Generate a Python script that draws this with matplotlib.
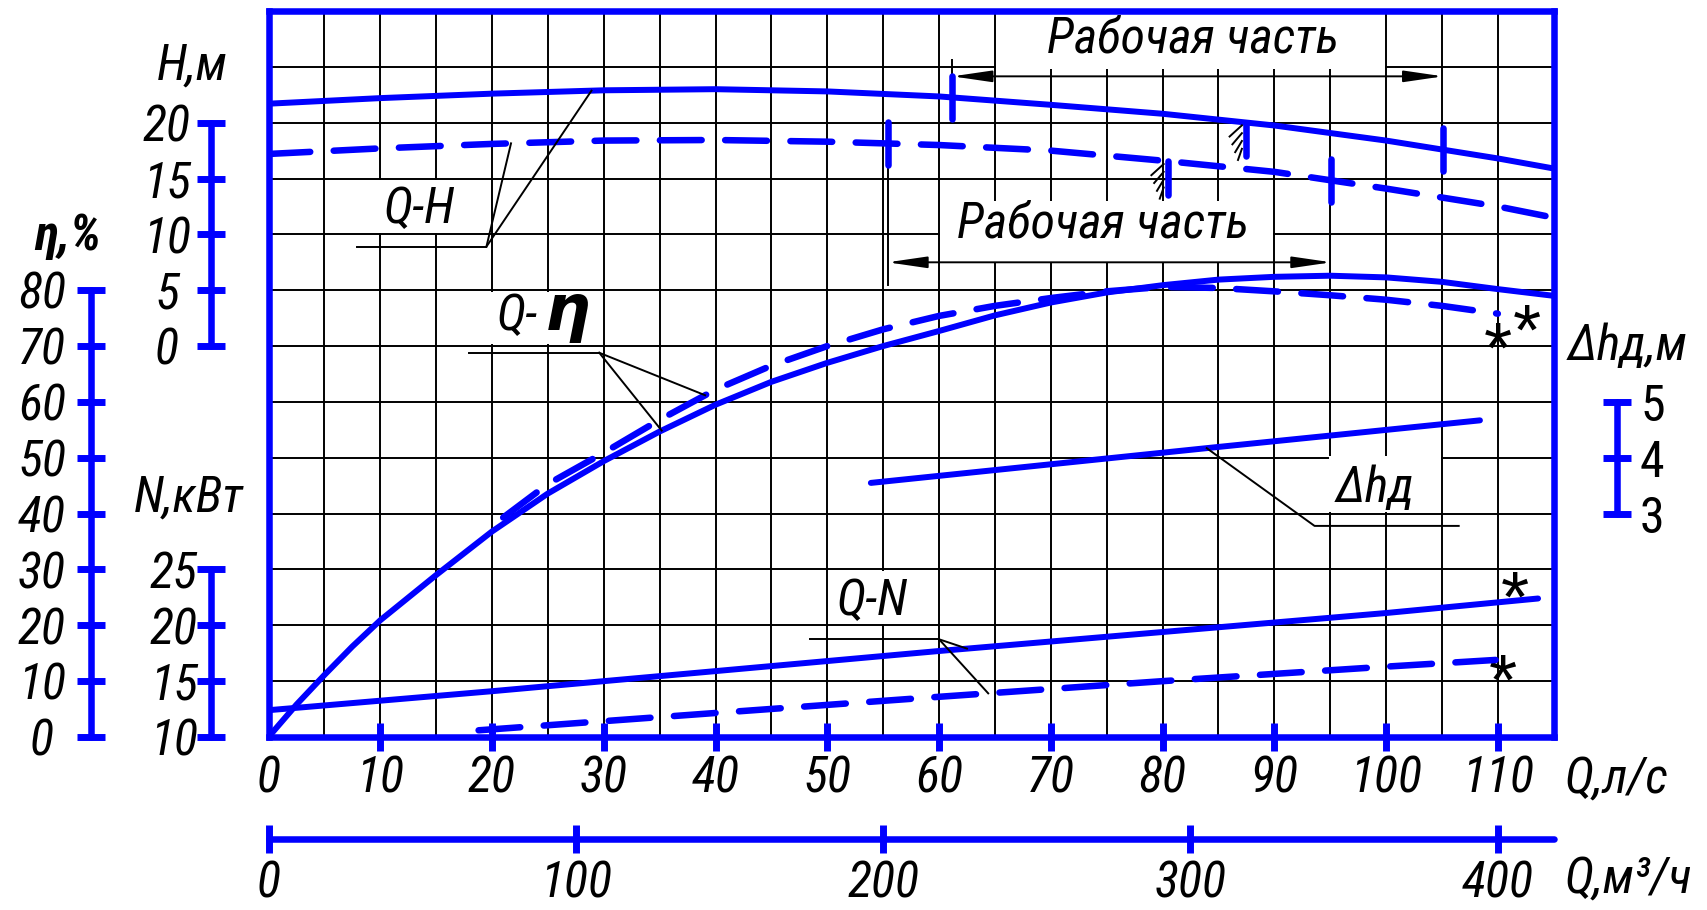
import numpy as np
import matplotlib
matplotlib.use("Agg")
import matplotlib.pyplot as plt
from matplotlib import font_manager as fm
from matplotlib.patches import Rectangle

# the drawing uses a narrow italic sans; take a narrow family if there is one
chosen = 'Liberation Sans'
for fam in ['Liberation Sans Narrow', 'Arial Narrow', 'Roboto Condensed']:
    try:
        fm.findfont(fm.FontProperties(family=fam), fallback_to_default=False)
        chosen = fam
        break
    except ValueError:
        pass
FS = 38 if 'Narrow' in chosen else (36 if 'Condensed' in chosen else 33)

plt.rcParams['font.family'] = [chosen, 'DejaVu Sans']
plt.rcParams['font.style'] = 'italic'
plt.rcParams['font.size'] = FS

BLUE = '#0000ff'

# Q-H, m (solid = full impeller, dashed = trimmed)
q_head = [0, 10, 20, 30, 40, 50, 60, 70, 80, 90, 100, 110, 115]
head_full = [21.7, 22.2, 22.6, 22.9, 23.0, 22.8, 22.35, 21.6, 20.8, 19.75, 18.4, 16.8, 15.9]
head_cut = [17.2, 17.7, 18.1, 18.4, 18.45, 18.3, 18.0, 17.5, 16.6, 15.6, 14.1, 12.5, 11.5]

# Q-eta, %
q_eff = [0, 2.5, 5, 7.5, 10, 15, 20, 25, 30, 35, 40, 45, 50, 55, 60, 65, 70, 75, 80,
         85, 90, 95, 100, 105, 110, 115]
eff_full = [0, 5.8, 11.1, 16.2, 20.9, 29.0, 36.8, 43.6, 49.4, 54.7, 59.5, 63.6, 67.0,
            70.0, 72.7, 75.5, 77.8, 79.6, 80.9, 81.9, 82.4, 82.6, 82.3, 81.5, 80.2, 79.0]
q_eff_cut = [21, 25, 30, 35, 40, 45, 50, 55, 60, 65, 70, 75, 80, 85, 90, 95, 100, 105, 110]
eff_cut = [39.3, 45.3, 50.9, 56.8, 62.2, 66.5, 70.0, 73.0, 75.4, 77.2, 78.6, 79.8, 80.6,
           80.4, 79.8, 79.1, 78.3, 77.2, 75.8]

# Q-N, kW
q_power = [0, 20, 40, 60, 80, 100, 113.6]
power_full = [12.4, 14.1, 15.9, 17.7, 19.4, 21.1, 22.4]
q_power_cut = [18.8, 40, 60, 80, 100, 109.8]
power_cut = [10.6, 12.15, 13.6, 15.0, 16.3, 16.9]

# delta h (NPSH), m
q_npsh = [53.9, 84.8, 108.4]
npsh = [3.55, 4.19, 4.67]

# scales
q_ticks = [0, 10, 20, 30, 40, 50, 60, 70, 80, 90, 100, 110]
m3h_ticks = [0, 100, 200, 300, 400]
M3H_AT_110 = 400          # the m3/h scale is drawn with 400 under 110 l/s
head_ticks = [0, 5, 10, 15, 20]
eff_ticks = [0, 10, 20, 30, 40, 50, 60, 70, 80]
power_ticks = [10, 15, 20, 25]
npsh_ticks = [3, 4, 5]

# working range marks (Q, l/s)
work_full = (61.2, 105.1)
work_cut = (55.4, 95.1)
best_full = 87.5
best_cut = 80.5

# === layout (pixels of the 1708x910 picture) ===
W, HT = 1708.0, 910.0
L, R, T, B = 268.5, 1553.7, 11.0, 737.0
pos = [L / W, 1 - B / HT, (R - L) / W, (B - T) / HT]
Q_MAX = 115
ROWS = 13

fig = plt.figure(figsize=(17.08, 9.10), dpi=100)

# --- main grid and Q, l/s axis ---
ax = fig.add_axes(pos)
ax.set_xlim(0, Q_MAX)
ax.set_ylim(0, ROWS)
ax.set_xticks(q_ticks)
ax.set_xticks(np.arange(5, Q_MAX + 1, 10), minor=True)
ax.set_yticks(range(ROWS + 1))
ax.set_axisbelow(True)
ax.grid(which='both', color='black', lw=1.4)
ax.tick_params(axis='y', length=0, labelleft=False)
ax.tick_params(axis='x', which='minor', length=0)
ax.tick_params(axis='x', which='major', direction='inout', length=20, width=5,
               color=BLUE, pad=3, labelsize=FS)
ax.xaxis.get_major_ticks()[0].tick1line.set_visible(False)
for s in ax.spines.values():
    s.set_color(BLUE)
    s.set_linewidth(4.7)


def scale_axes(ylim):
    a = fig.add_axes(pos)
    a.set_xlim(0, Q_MAX)
    a.set_ylim(*ylim)
    a.patch.set_visible(False)
    for s in a.spines.values():
        s.set_visible(False)
    a.tick_params(bottom=False, labelbottom=False, left=False, labelleft=False)
    return a


def draw_scale(a, side, x_px, ticks, pad, ha):
    sp = a.spines[side]
    sp.set_visible(True)
    sp.set_position(('axes', (x_px - L) / (R - L)))
    sp.set_bounds(ticks[0], ticks[-1])
    sp.set_color(BLUE)
    sp.set_linewidth(4.7)
    sp.set_capstyle('round')
    a.yaxis.set_ticks_position(side)
    a.set_yticks(ticks)
    a.tick_params(axis='y', direction='inout', length=20, width=5, color=BLUE,
                  pad=pad, labelsize=FS, **{side: True, 'label' + side: True})
    plt.setp(a.get_yticklabels(), ha=ha)


# each quantity gets its own y scale mapped on the 13 grid rows
ax_eta = scale_axes((0, 130))
ax_H = scale_axes((-35, 30))
ax_N = scale_axes((10, 75))
ax_dh = scale_axes((-1, 12))

draw_scale(ax_eta, 'left', 91, eff_ticks, 25.3, 'center')
draw_scale(ax_H, 'left', 211.4, head_ticks, 22, 'center')
draw_scale(ax_N, 'left', 211.4, power_ticks, 17, 'center')
draw_scale(ax_dh, 'right', 1616.7, npsh_ticks, 6.8, 'left')
plt.setp(ax_dh.get_yticklabels(), style='normal')

# --- Q, m3/h axis ---
am = fig.add_axes(pos)
am.patch.set_visible(False)
for s in am.spines.values():
    s.set_visible(False)
am.set_xlim(0, Q_MAX * M3H_AT_110 / 110)
am.set_yticks([])
am.set_xticks(m3h_ticks)
sp = am.spines['bottom']
sp.set_visible(True)
sp.set_position(('axes', -(838.7 - B) / (B - T)))
sp.set_bounds(0, Q_MAX * M3H_AT_110 / 110)
sp.set_color(BLUE)
sp.set_linewidth(4.7)
sp.set_capstyle('round')
am.tick_params(axis='x', direction='inout', length=20, width=5, color=BLUE, pad=5,
               labelsize=FS)

# --- white boxes behind labels (grid interrupted) ---
for x0, x1, y0, y1 in [(65.1, 99.9, 11.97, 13.0), (60.1, 89.9, 8.5, 9.6),
                       (9.8, 19.9, 9.03, 9.97), (19.8, 29.9, 7.03, 7.97),
                       (50.2, 59.9, 2.03, 2.97), (94.9, 104.9, 4.03, 5.03)]:
    ax.add_patch(Rectangle((x0, y0), x1 - x0, y1 - y0, facecolor='white',
                           edgecolor='none', zorder=1))

# --- curves ---
solid_kw = dict(color=BLUE, lw=4.3, solid_capstyle='round', solid_joinstyle='round')
dash_kw = dict(color=BLUE, lw=4.7, dashes=(6.4, 3.6), dash_capstyle='round')

ax_H.plot(q_head, head_full, **solid_kw)
ax_H.plot(q_head, head_cut, **dash_kw)
ax_eta.plot(q_eff, eff_full, **solid_kw)
ax_eta.plot(q_eff_cut, eff_cut, **dash_kw)
ax_N.plot(q_power, power_full, **solid_kw)
ax_N.plot(q_power_cut, power_cut, **dash_kw)
ax_dh.plot(q_npsh, npsh, **solid_kw)

# --- working range ticks on Q-H ---
tick_kw = dict(color=BLUE, lw=4.7, solid_capstyle='round')
for q in work_full:
    h = np.interp(q, q_head, head_full)
    ax_H.plot([q, q], [h - 1.9, h + 1.9], **tick_kw)
for q in work_cut:
    h = np.interp(q, q_head, head_cut)
    ax_H.plot([q, q], [h - 1.9, h + 1.9], **tick_kw)
for q, curve in [(best_full, head_full), (best_cut, head_cut)]:
    h = np.interp(q, q_head, curve)
    ax_H.plot([q, q], [h, h - 3.0], **tick_kw)
    for k in range(4):
        yk = h - 0.35 - 0.7 * k
        ax_H.plot([q - 1.5 + 0.25 * k, q - 0.4], [yk - 0.9, yk + 0.1], color='black', lw=1.4)

# --- dimension lines "Рабочая часть" ---
arrow = dict(arrowstyle='<|-|>,head_length=2.4,head_width=0.35', color='black', lw=1.4,
             shrinkA=0, shrinkB=0, mutation_scale=10)
ax.annotate('', xy=(work_full[1], 11.83), xytext=(work_full[0], 11.83), arrowprops=arrow)
ax.annotate('', xy=(work_cut[1], 8.5), xytext=(work_cut[0], 8.5), arrowprops=arrow)
ax.plot([work_full[0]] * 2, [12.12, 11.2], color='black', lw=1.4)
ax.plot([work_cut[0]] * 2, [10.3, 8.09], color='black', lw=1.4)
ax.text(82.7, 12.25, 'Рабочая часть', ha='center', va='baseline', zorder=3)
ax.text(74.7, 8.95, 'Рабочая часть', ha='center', va='baseline', zorder=3)

# --- curve labels with leader lines ---
lead = dict(color='black', lw=1.4)
ax.text(10.25, 9.20, 'Q-H', ha='left', va='baseline', zorder=3)
ax_H.plot([7.9, 19.5], [8.9, 8.9], **lead)
ax_H.plot([19.5, 21.7], [8.9, np.interp(21.7, q_head, head_cut)], **lead)
ax_H.plot([19.5, 28.9], [8.9, np.interp(28.9, q_head, head_full)], **lead)

ax.text(20.4, 7.29, 'Q-', ha='left', va='baseline', zorder=3)
ax.text(24.7, 7.29, 'η', ha='left', va='baseline', fontsize=46, fontweight='bold',
        family=['DejaVu Sans'], zorder=3)
ax_eta.plot([17.97, 29.6], [68.8, 68.8], **lead)
ax_eta.plot([29.6, 39.07], [68.8, np.interp(39.07, q_eff_cut, eff_cut)], **lead)
ax_eta.plot([29.6, 35.18], [68.8, np.interp(35.18, q_eff, eff_full)], **lead)

ax.text(50.85, 2.18, 'Q-N', ha='left', va='baseline', zorder=3)
ax_N.plot([48.45, 60.0], [18.75, 18.75], **lead)
ax_N.plot([60.0, 62.5], [18.75, np.interp(62.5, q_power, power_full)], **lead)
ax_N.plot([60.0, 64.4], [18.75, np.interp(64.4, q_power_cut, power_cut)], **lead)

ax.text(95.5, 4.21, 'Δhд', ha='left', va='baseline', zorder=3)
ax_dh.plot([83.95, 93.6, 106.5], [np.interp(83.95, q_npsh, npsh), 2.78, 2.78], **lead)

# asterisks at the ends of the trimmed-impeller curves
for qx, row in [(109.97, 7.26), (112.57, 7.59), (111.53, 2.81), (110.46, 1.32)]:
    ax.text(qx, row - 0.74, '*', ha='center', va='baseline', fontsize=52,
            style='normal', family=['Liberation Sans', 'DejaVu Sans'], zorder=3)

# --- axis captions ---
fig.text(157 / W, 1 - 80 / HT, 'H,м', ha='left', va='baseline')
fig.text(34 / W, 1 - 250 / HT, 'η,%', ha='left', va='baseline', fontweight='bold')
fig.text(134 / W, 1 - 511.7 / HT, 'N,кВт', ha='left', va='baseline')
fig.text(1568 / W, 1 - 360 / HT, 'Δhд,м', ha='left', va='baseline')
fig.text(1564 / W, 1 - 793 / HT, 'Q,л/с', ha='left', va='baseline')
fig.text(1564 / W, 1 - 893 / HT, 'Q,м³/ч', ha='left', va='baseline')

fig.savefig('out.png', dpi=100)
